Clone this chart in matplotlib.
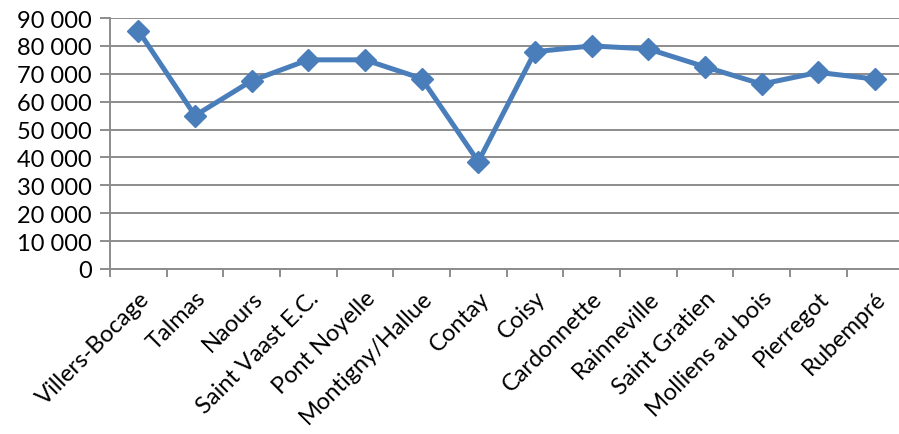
import matplotlib
matplotlib.use("Agg")
import matplotlib.pyplot as plt
import numpy as np

communes = ["Villers-Bocage", "Talmas", "Naours", "Saint Vaast E.C.", "Pont Noyelle",
            "Montigny/Hallue", "Contay", "Coisy", "Cardonnette", "Rainneville",
            "Saint Gratien", "Molliens au bois", "Pierregot", "Rubempré"]
valeurs = [85500, 55000, 67500, 75000, 75000, 68300, 38500, 77900, 80000, 78900,
           72500, 66300, 70500, 68100]
yticks = list(range(0, 90001, 10000))
ytick_labels = [f"{v:,}".replace(",", " ") for v in yticks]

plt.rcParams['font.family'] = ['Lato', 'DejaVu Sans']

W, H = 899, 435
fig = plt.figure(figsize=(W / 100, H / 100), dpi=100)
ax = fig.add_axes([110 / W, 165 / H, 793.3 / W, 251 / H])

x = np.arange(len(communes))
ax.plot(x, valeurs, color="#4A7EBB", lw=3.6, marker="D", markersize=11,
        markerfacecolor="#4A7EBB", markeredgecolor="#4A7EBB", zorder=3,
        clip_on=False)

ax.set_xlim(-0.5, len(communes) - 0.5)
ax.set_ylim(0, 90000)
ax.set_yticks(yticks)
ax.set_yticklabels(ytick_labels, fontsize=17)
ax.yaxis.grid(True, color="#8C8C8C", lw=1.4)
ax.set_axisbelow(True)

ax.set_xticks(x)
ax.set_xticklabels(communes, rotation=45, ha="right", va="top",
                   rotation_mode="anchor", fontsize=17)
ax.set_xticks(np.arange(-0.5, len(communes), 1), minor=True)
ax.tick_params(axis="x", which="major", length=0, pad=13)
ax.tick_params(axis="x", which="minor", length=6, color="#8C8C8C", width=1.4)
ax.tick_params(axis="y", length=7, color="#8C8C8C", width=1.4, pad=6)

for s in ["top", "right"]:
    ax.spines[s].set_visible(False)
for s in ["left", "bottom"]:
    ax.spines[s].set_color("#8C8C8C")
    ax.spines[s].set_linewidth(1.4)

fig.savefig("out.png", dpi=100)
